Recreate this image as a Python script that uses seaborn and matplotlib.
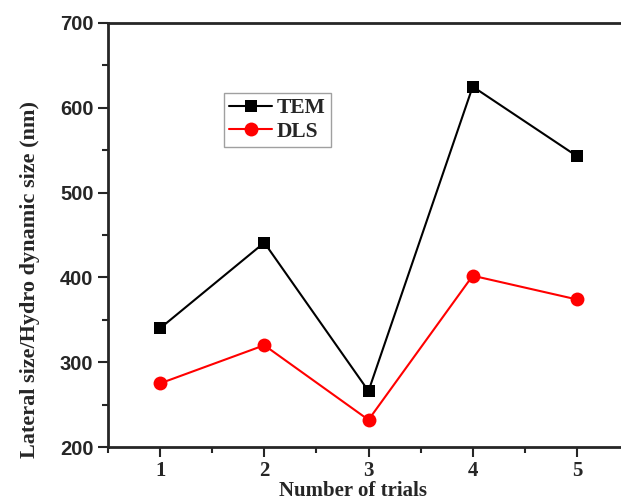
import matplotlib
matplotlib.use("Agg")
import matplotlib.pyplot as plt
import seaborn as sns
import pandas as pd
from matplotlib.ticker import MultipleLocator

trials = [1, 2, 3, 4, 5]
tem = [340, 441, 266, 625, 543]
dls = [275, 320, 232, 402, 374]
series_names = ["TEM", "DLS"]
yticks = [200, 300, 400, 500, 600, 700]

df = pd.DataFrame({
    "trial": trials * 2,
    "size": tem + dls,
    "method": ["TEM"] * len(trials) + ["DLS"] * len(trials),
})

sns.set_style("ticks")
plt.rcParams["font.family"] = ["Liberation Serif", "DejaVu Serif"]

fig = plt.figure(figsize=(6.21, 5.01), dpi=100)
ax = fig.add_axes([108 / 621, 1 - 447 / 501, (629 - 108) / 621, (447 - 23) / 501])

sns.lineplot(data=df, x="trial", y="size", hue="method", style="method",
             palette={"TEM": "black", "DLS": "#ff0000"},
             markers={"TEM": "s", "DLS": "o"}, dashes=False,
             markeredgewidth=0, linewidth=1.5, ax=ax, legend=False)
for line, ms in zip(ax.lines, [8.5, 10]):
    line.set_markersize(ms)

ax.set_xlim(0.5, 5.5)
ax.set_ylim(200, 700)
ax.set_xticks(trials)
ax.set_yticks(yticks)
ax.xaxis.set_minor_locator(MultipleLocator(0.5))
ax.yaxis.set_minor_locator(MultipleLocator(50))
ax.tick_params(which="major", direction="out", length=7, width=1.5)
ax.tick_params(which="minor", direction="out", length=4, width=1.5)
ax.tick_params(axis="x", which="major", pad=3)
for lab in ax.get_yticklabels():
    lab.set_fontfamily("Liberation Sans")
    lab.set_fontweight("bold")
    lab.set_fontsize(14.5)
for lab in ax.get_xticklabels():
    lab.set_fontfamily("Liberation Serif")
    lab.set_fontweight("bold")
    lab.set_fontsize(15)
for sp in ax.spines.values():
    sp.set_linewidth(2)

ax.set_xlabel("Number of trials", fontsize=15, fontweight="bold")
ax.set_ylabel("Lateral size/Hydro dynamic size (nm)", fontsize=16, fontweight="bold")
ax.xaxis.set_label_coords((353 - 108) / 521, (447 - 481) / 424)
ax.yaxis.set_label_coords((40 - 108) / 521, (447 - 280) / 424)

leg = ax.legend(handles=ax.lines[:2], labels=series_names, loc="upper left",
                bbox_to_anchor=((224 - 108) / 521, 1 - (93 - 23) / 424),
                frameon=True, fancybox=False, prop={"family": "Liberation Serif", "weight": "bold", "size": 15.5},
                handlelength=2.0, handletextpad=0.2, borderpad=0.25, labelspacing=0.15, borderaxespad=0)
leg.get_frame().set_edgecolor("#888888")
leg.get_frame().set_linewidth(1)

fig.savefig("out.png", dpi=100)
